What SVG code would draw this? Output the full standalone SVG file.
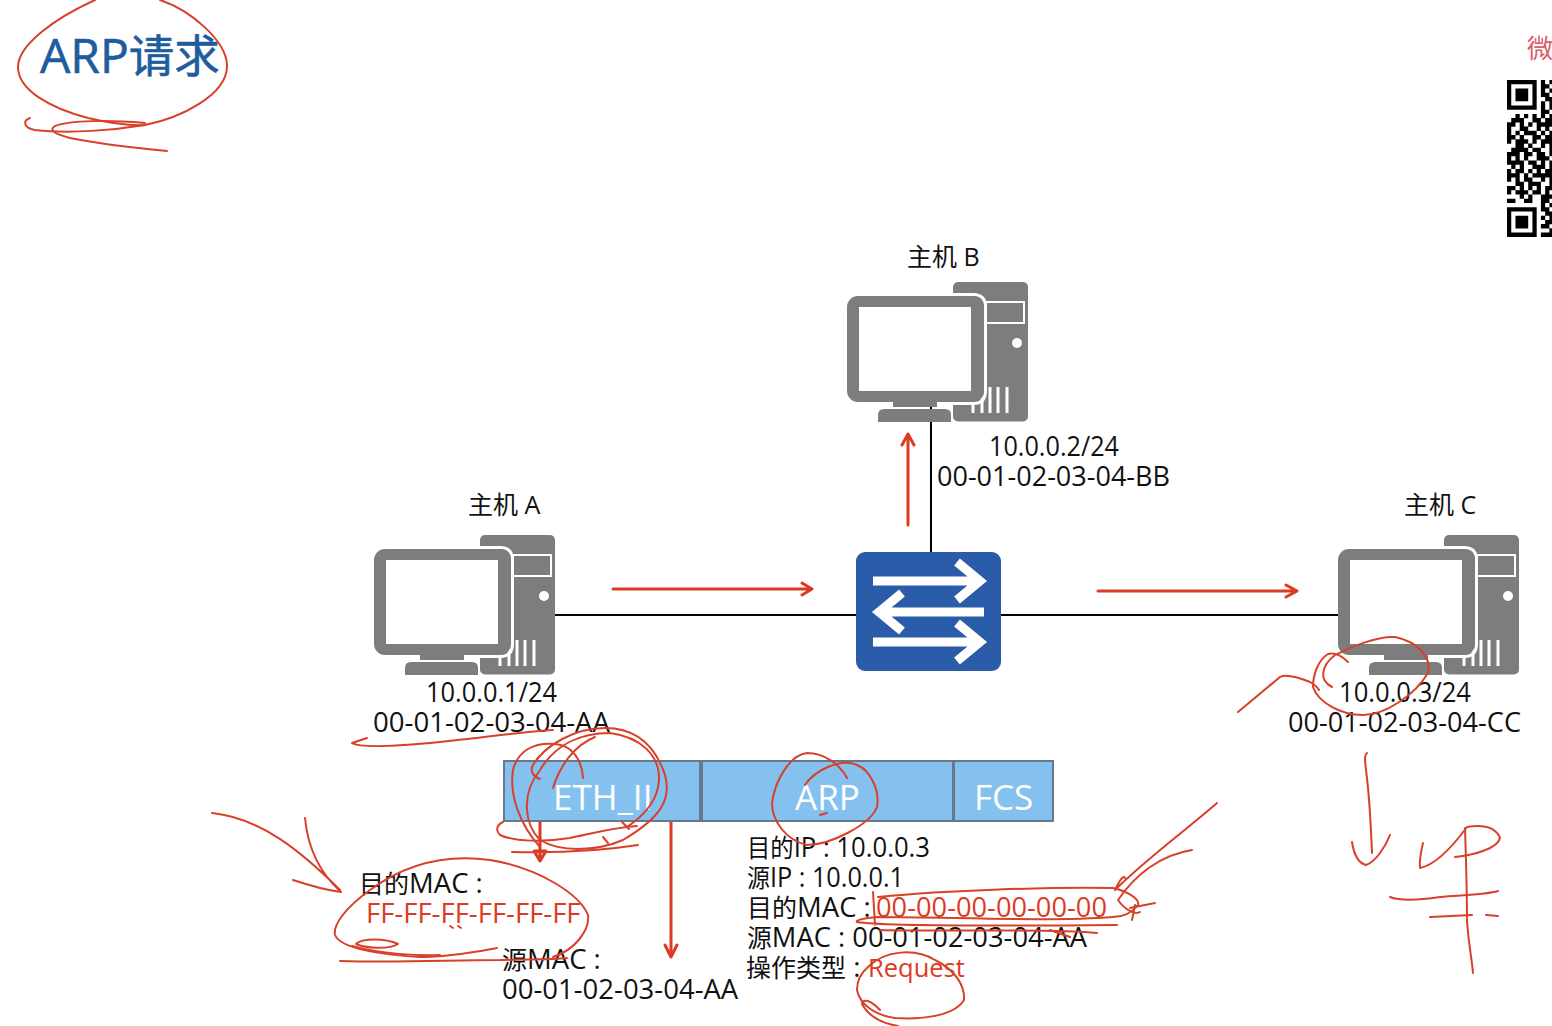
<svg xmlns="http://www.w3.org/2000/svg" xmlns:xlink="http://www.w3.org/1999/xlink" width="1552" height="1026" viewBox="0 0 1552 1026">
<style>
text{font-family:"Open Sans","Noto Sans CJK SC",sans-serif;font-size:27.5px;fill:#111}
.c{font-size:25px}
.r{fill:#dc3a22}
.w{fill:#fff;font-size:35px}
.lab{font-size:25px}
.ink{fill:none;stroke:#d8402a;stroke-width:2;stroke-linecap:round;stroke-linejoin:round}
.arr{fill:none;stroke:#dc3a22;stroke-width:3;stroke-linecap:round;stroke-linejoin:round}
.link{stroke:#000;stroke-width:2;fill:none}
.field{fill:#85c1ef;stroke:#66788a;stroke-width:2}
.sw{stroke:#fff;stroke-width:9;fill:none}
</style>
<defs>
<g id="pc">
<rect x="953" y="282" width="75" height="139.500" rx="5" fill="#7d7d7d"/>
<rect x="986" y="302" width="38" height="21" fill="#7d7d7d" stroke="#fff" stroke-width="2"/>
<circle cx="1017" cy="343" r="5" fill="#fff"/>
<path d="M973 387V413M982 387V413M990 387V413M998 387V413M1007 387V413" stroke="#fff" stroke-width="3"/>
<path d="M950 294.500H973Q985.500 294.500 985.500 307V391Q985.500 403.500 973 403.500H950" fill="none" stroke="#fff" stroke-width="3"/>
<rect x="847" y="296" width="137" height="106" rx="11" fill="#7d7d7d"/>
<rect x="859" y="307" width="112" height="84" fill="#fff"/>
<rect x="893" y="402" width="44" height="5" fill="#7d7d7d"/>
<path d="M884 409H945Q951 409 951 415V422H878V415Q878 409 884 409Z" fill="#7d7d7d"/>
</g>
</defs>

<g id="connectors">
<path class="link" d="M555 615H856M1001 615H1338M931 407V409M931 422V552"/>
<path class="arr" d="M613 589H812M802 583L812 589L802 595"/>
<path class="arr" d="M1098 591H1297M1286 585L1297 591L1286 597"/>
<path class="arr" d="M908 525V434M902 445L908 434L914 445"/>
<path class="arr" d="M671 822V957M665 945L671 957L677 945"/>
<path class="arr" d="M540 822V861M534 851L540 861L546 851Z"/>
</g>

<g id="host-a"><use xlink:href="#pc" href="#pc" x="-473" y="253"/>
<text class="lab" x="468" y="514">主机 A</text>
<text x="426" y="702" textLength="131" lengthAdjust="spacingAndGlyphs">10.0.0.1/24</text>
<text x="373" y="732" textLength="237" lengthAdjust="spacingAndGlyphs">00-01-02-03-04-AA</text></g>

<g id="host-b"><use xlink:href="#pc" href="#pc"/>
<text class="lab" x="907" y="266">主机 B</text>
<text x="989" y="456" textLength="130" lengthAdjust="spacingAndGlyphs">10.0.0.2/24</text>
<text x="937" y="486" textLength="233" lengthAdjust="spacingAndGlyphs">00-01-02-03-04-BB</text></g>

<g id="host-c"><use xlink:href="#pc" href="#pc" x="491" y="253"/>
<text class="lab" x="1404" y="514">主机 C</text>
<text x="1339" y="702" textLength="132" lengthAdjust="spacingAndGlyphs">10.0.0.3/24</text>
<text x="1288" y="732" textLength="233" lengthAdjust="spacingAndGlyphs">00-01-02-03-04-CC</text></g>

<g id="switch">
<rect x="856" y="552" width="145" height="119" rx="9" fill="#2a5caa"/>
<path class="sw" d="M873 581H978M957 562L980 581L957 600"/>
<path class="sw" d="M984 612H879M902 593L879 612L902 631"/>
<path class="sw" d="M873 642H978M957 623L980 642L957 661"/>
</g>

<g id="frame-eth"><rect class="field" x="504" y="761" width="196" height="60"/><text class="w" x="553" y="810">ETH_II</text></g>
<g id="frame-arp"><rect class="field" x="702" y="761" width="251" height="60"/><text class="w" x="795" y="810">ARP</text></g>
<g id="frame-fcs"><rect class="field" x="954" y="761" width="99" height="60"/><text class="w" x="974" y="810">FCS</text></g>

<g id="eth-fields">
<text x="359" y="893"><tspan class="c">目的</tspan>MAC :</text>
<text class="r" x="366" y="923">FF-FF-FF-FF-FF-FF</text>
<text x="502" y="969"><tspan class="c">源</tspan>MAC :</text>
<text x="502" y="999">00-01-02-03-04-AA</text>
</g>
<g id="arp-fields">
<text x="747" y="857" textLength="183" lengthAdjust="spacingAndGlyphs"><tspan class="c">目的</tspan>IP : 10.0.0.3</text>
<text x="747" y="887" textLength="157" lengthAdjust="spacingAndGlyphs"><tspan class="c">源</tspan>IP : 10.0.0.1</text>
<text x="747" y="917"><tspan class="c">目的</tspan>MAC :</text>
<text class="r" x="876" y="917" textLength="231" lengthAdjust="spacingAndGlyphs">00-00-00-00-00-00</text>
<text x="747" y="947" textLength="340" lengthAdjust="spacingAndGlyphs"><tspan class="c">源</tspan>MAC : 00-01-02-03-04-AA</text>
<text x="746" y="977"><tspan class="c">操作类型</tspan> :</text>
<text class="r" x="868" y="977" style="font-size:25.500px">Request</text>
</g>

<g id="title"><text x="40" y="73" style="font-size:48px;fill:#1f5c9e;stroke:#1f5c9e;stroke-width:.6">ARP<tspan style="font-size:45.500px">请求</tspan></text></g>

<g id="side">
<text x="1527" y="58" style="font-size:26px;fill:#d9606a">微</text>
<path transform="translate(1507 80) scale(4.24)" fill="none" stroke="#000" stroke-width="1.02" d="M0 .5h7M8 .5h1M10 .5h1M0 1.500h1M6 1.500h1M8 1.500h2M0 2.500h1M2 2.500h3M6 2.500h1M8 2.500h1M10 2.500h1M0 3.500h1M2 3.500h3M6 3.500h1M8 3.500h2M0 4.500h1M2 4.500h3M6 4.500h1M9 4.500h2M0 5.500h1M6 5.500h1M8 5.500h1M10 5.500h1M0 6.500h7M8 6.500h1M10 6.500h1M8 7.500h2M2 8.500h1M4 8.500h1M6 8.500h1M8 8.500h1M10 8.500h1M1 9.500h3M6 9.500h2M9 9.500h2M0 10.500h2M3 10.500h1M5 10.500h1M7 10.500h4M0 11.500h1M3 11.500h2M7 11.500h1M9 11.500h1M0 12.500h1M2 12.500h1M4 12.500h3M8 12.500h1M10 12.500h1M0 13.500h2M3 13.500h1M6 13.500h2M9 13.500h2M0 14.500h1M2 14.500h3M6 14.500h1M8 14.500h3M2 15.500h2M5 15.500h1M8 15.500h1M10 15.500h1M1 16.500h4M6 16.500h2M10 16.500h1M0 17.500h3M4 17.500h2M7 17.500h2M10 17.500h1M0 18.500h1M2 18.500h1M4 18.500h1M7 18.500h3M0 19.500h4M5 19.500h2M8 19.500h1M10 19.500h1M1 20.500h1M3 20.500h1M6 20.500h3M10 20.500h1M0 21.500h1M2 21.500h2M5 21.500h1M7 21.500h1M9 21.500h2M0 22.500h3M4 22.500h1M6 22.500h5M0 23.500h1M2 23.500h1M4 23.500h2M8 23.500h1M10 23.500h1M2 24.500h2M5 24.500h3M10 24.500h1M0 25.500h2M3 25.500h1M5 25.500h1M7 25.500h1M9 25.500h2M0 26.500h1M2 26.500h3M6 26.500h2M9 26.500h1M3 27.500h1M5 27.500h1M8 27.500h3M0 28.500h2M4 28.500h2M8 28.500h2M8 29.500h1M10 29.500h1M0 30.500h7M8 30.500h2M0 31.500h1M6 31.500h1M9 31.500h2M0 32.500h1M2 32.500h3M6 32.500h1M8 32.500h1M10 32.500h1M0 33.500h1M2 33.500h3M6 33.500h1M9 33.500h2M0 34.500h1M2 34.500h3M6 34.500h1M8 34.500h2M0 35.500h1M6 35.500h1M10 35.500h1M0 36.500h7M8 36.500h3"/>
</g>

<g id="annotations">
<path class="ink" d="M95 0C55 18 18 45 18 67C18 90 50 108 88 118C105 122 125 126 145 125C180 118 228 95 227 65C226 40 190 10 160 0"/>
<path class="ink" d="M145 123C110 120 70 120 55 126C48 130 55 134 70 138C100 144 135 148 167 151"/>
<path class="ink" d="M30 118C22 121 24 128 35 130C70 134 115 130 145 125"/>
<path class="ink" d="M367 738L352 743C360 748 400 746 440 742C480 738 520 732 553 730"/>
<path class="ink" d="M540 779C532 776 530 770 533 765C545 745 575 728 605 728C635 728 655 745 665 775C672 800 660 818 623 840C595 852 560 852 540 840C525 825 520 795 540 770C555 745 580 733 610 733C640 737 660 755 659 780C658 800 645 815 627 827"/>
<path class="ink" d="M583 778C582 760 572 745 555 744C535 742 518 750 513 770C509 795 520 825 540 847"/>
<path class="ink" d="M553 788C560 765 575 745 595 737"/>
<path class="ink" d="M637 826C610 828 590 834 570 838C545 842 515 842 500 835C495 830 497 825 503 822"/>
<path class="ink" d="M512 852C550 853 600 851 638 845M622 822L629 829M603 837L608 843"/>
<path class="ink" d="M212 813C260 818 300 850 340 890M305 818C308 850 322 875 341 892C325 890 308 885 293 880"/>
<path class="ink" d="M553 957C575 950 590 930 588 915C580 895 540 868 490 860C440 853 400 868 370 890C345 908 333 925 335 935C340 948 380 955 420 957C450 957 480 951 497 948"/>
<path class="ink" d="M356 944C362 938 385 938 398 944C388 950 365 948 356 944M352 946C380 954 420 956 440 955"/>
<path class="ink" d="M340 961C400 963 450 960 500 960C520 959 550 960 567 958"/>
<path class="ink" d="M450 926L453 928M458 926L461 928"/>
<path class="ink" d="M847 778C840 765 825 753 807 753C790 755 775 780 772 803C772 820 785 840 807 845C830 845 870 825 877 807C880 790 870 770 857 765C840 758 815 770 805 785M820 815L827 813"/>
<path class="ink" d="M873 892L875 925M878 897C950 890 1050 887 1113 888C1130 892 1140 900 1138 905C1130 915 1120 917 1113 917C1050 922 950 917 877 917C865 918 855 920 857 922C880 926 1000 926 1117 925M880 930C950 932 1050 928 1097 933M1050 930L1070 937"/>
<path class="ink" d="M1217 803C1180 835 1145 860 1115 890C1120 880 1123 875 1125 878M1192 850C1160 855 1135 875 1118 900C1125 910 1135 915 1140 912M1155 903L1130 908M1135 905L1132 920"/>
<path class="ink" d="M868 967C885 950 915 948 935 960C955 970 965 985 964 1000C955 1015 925 1020 895 1018C875 1015 860 1005 857 990C857 980 862 972 868 967M862 1002C868 998 875 1005 880 1010M862 1004C868 1015 880 1023 898 1026"/>
<path class="ink" d="M1348 662C1342 656 1335 652 1328 654C1318 660 1313 675 1313 687C1318 702 1340 715 1363 715C1385 715 1415 695 1428 673C1432 660 1420 642 1395 637C1375 636 1350 648 1335 655C1322 665 1318 680 1332 687"/>
<path class="ink" d="M1238 712L1280 677C1285 674 1295 676 1310 682C1315 685 1318 688 1319 690"/>
<path class="ink" d="M1367 753C1364 755 1365 760 1366 770C1370 800 1371 830 1372 853M1352 842C1354 855 1358 863 1366 865C1375 862 1385 848 1390 835"/>
<path class="ink" d="M1423 843C1421 852 1419 860 1420 868C1435 865 1450 850 1467 827C1480 825 1495 826 1500 838C1498 848 1475 855 1455 857"/>
<path class="ink" d="M1465 828C1466 860 1467 890 1467 920C1468 940 1472 960 1473 973"/>
<path class="ink" d="M1390 897C1400 901 1420 900 1440 897C1460 895 1485 895 1498 891M1430 917L1472 915M1486 915L1498 916"/>
</g>
</svg>
